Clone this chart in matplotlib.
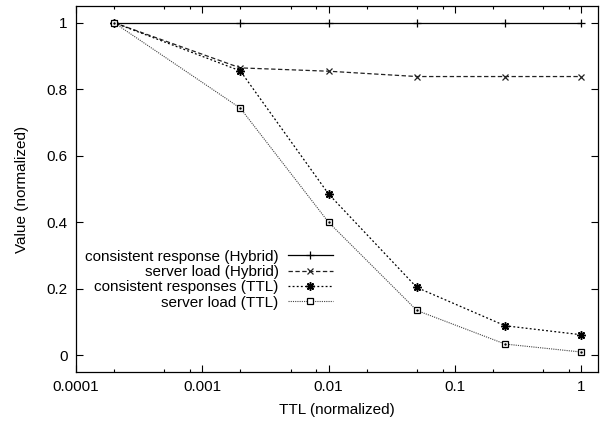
import matplotlib
matplotlib.use("Agg")
import matplotlib.pyplot as plt
from matplotlib.ticker import LogLocator, FixedLocator, NullFormatter

plt.rcParams["font.family"] = ["Liberation Sans", "DejaVu Sans"]
plt.rcParams["font.size"] = 11

ttl = [0.0002, 0.002, 0.01, 0.05, 0.25, 1.0]
consistent_hybrid = [1.0, 1.0, 1.0, 1.0, 1.0, 1.0]
load_hybrid = [1.0, 0.864, 0.854, 0.838, 0.838, 0.838]
consistent_ttl = [1.0, 0.855, 0.485, 0.204, 0.089, 0.062]
load_ttl = [1.0, 0.743, 0.400, 0.135, 0.034, 0.010]

xticks = [0.0001, 0.001, 0.01, 0.1, 1]
xticklabels = ["0.0001", "0.001", "0.01", "0.1", "1"]
yticks = [0, 0.2, 0.4, 0.6, 0.8, 1]
yticklabels = ["0", "0.2", "0.4", "0.6", "0.8", "1"]

fig = plt.figure(figsize=(6.04, 4.22), dpi=100)
ax = fig.add_axes([76 / 604, 1 - 372 / 422, 522 / 604, 366 / 422])

ax.plot(ttl, consistent_hybrid, color="black", lw=0.9, marker="+", ms=6,
        mew=0.9, label="consistent response (Hybrid)")
ax.plot(ttl, load_hybrid, color="#222222", lw=0.9, ls=(0, (3.5, 2)), marker="x",
        ms=4.5, mew=0.9, label="server load (Hybrid)")
ax.plot(ttl, consistent_ttl, color="black", lw=0.9, ls=(0, (1.5, 1.8)), marker=(8, 2, 0),
        ms=6, mew=1.1, label="consistent responses (TTL)")
ax.plot(ttl, load_ttl, color="#444444", lw=0.8, ls=(0, (1, 1)), marker="s", ms=4.5,
        mfc="white", mec="black", mew=0.9, label="server load (TTL)")
ax.plot(ttl, load_ttl, ls="none", marker=".", ms=1.5, color="black")

ax.set_xscale("log")
ax.set_xlim(1e-4, 1.36)
ax.set_ylim(-0.05, 1.05)
ax.xaxis.set_major_locator(FixedLocator(xticks))
ax.set_xticklabels(xticklabels)
ax.xaxis.set_minor_locator(LogLocator(base=10, subs=[2, 5, 8]))
ax.xaxis.set_minor_formatter(NullFormatter())
ax.set_yticks(yticks)
ax.set_yticklabels(yticklabels)

ax.tick_params(which="both", direction="in", top=True, right=True, pad=6)
ax.tick_params(which="major", length=5, width=0.8)
ax.tick_params(which="minor", length=2.5, width=0.8)
for s in ax.spines.values():
    s.set_linewidth(0.9)

ax.set_xlabel("TTL (normalized)", labelpad=6)
ax.set_ylabel("Value (normalized)")
ax.yaxis.set_label_coords(-0.09, 0.5)

leg = ax.legend(loc="lower right", bbox_to_anchor=(0.492, 0.17), frameon=False,
                markerfirst=False, handlelength=2.95, handletextpad=0.6,
                labelspacing=0.09, borderpad=0, borderaxespad=0)

fig.savefig("out.png", dpi=100)
